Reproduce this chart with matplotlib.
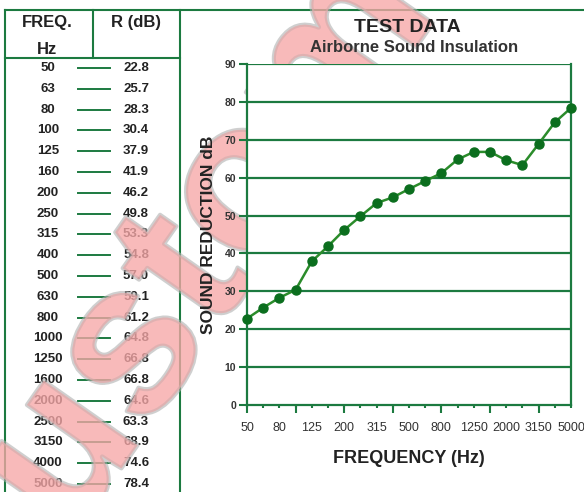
import matplotlib.pyplot as plt
import matplotlib.patheffects as pe

freqs = [50, 63, 80, 100, 125, 160, 200, 250, 315, 400, 500, 630, 800,
         1000, 1250, 1600, 2000, 2500, 3150, 4000, 5000]
r_db = [22.8, 25.7, 28.3, 30.4, 37.9, 41.9, 46.2, 49.8, 53.3, 54.8, 57.0,
        59.1, 61.2, 64.8, 66.8, 66.8, 64.6, 63.3, 68.9, 74.6, 78.4]
yticks = [0, 10, 20, 30, 40, 50, 60, 70, 80, 90]

plt.rcParams['font.family'] = ['Liberation Sans', 'DejaVu Sans']
GREEN = '#1c7a40'
TXT = '#222222'
W, H = 584, 492

fig = plt.figure(figsize=(W / 100, H / 100), dpi=100)

# overlay in pixel coords for the table
bg = fig.add_axes([0, 0, 1, 1])
bg.set_xlim(0, W)
bg.set_ylim(H, 0)
bg.axis('off')

bg.plot([5, W], [10, 10], color=GREEN, lw=1.5)
bg.plot([5, 5], [10, H], color=GREEN, lw=1.5)
bg.plot([180, 180], [10, H], color=GREEN, lw=1.5)
bg.plot([93, 93], [10, 58], color=GREEN, lw=1.5)
bg.plot([5, 180], [58, 58], color=GREEN, lw=1.5)

bg.text(47, 23, 'FREQ.', ha='center', va='center', fontsize=12, fontweight='bold', color=TXT)
bg.text(47, 50, 'Hz', ha='center', va='center', fontsize=12, fontweight='bold', color=TXT)
bg.text(136, 23, 'R (dB)', ha='center', va='center', fontsize=12, fontweight='bold', color=TXT)

row0, row1 = 68, 484
step = (row1 - row0) / (len(freqs) - 1)
for i, (f, r) in enumerate(zip(freqs, r_db)):
    y = row0 + i * step
    bg.text(48, y, str(f), ha='center', va='center', fontsize=9.5, fontweight='bold', color=TXT)
    bg.plot([78, 110], [y, y], color=GREEN, lw=1.4)
    bg.text(136, y, f'{r:.1f}', ha='center', va='center', fontsize=9.5, fontweight='bold', color=TXT)

# chart
ax = fig.add_axes([247 / W, 1 - 405 / H, (571 - 247) / W, (405 - 64) / H])
x = list(range(len(freqs)))
ax.plot(x, r_db, color='#2b8c2b', lw=1.8, marker='o', ms=6.5,
        markerfacecolor='#0b6e1e', markeredgecolor='#0b6e1e', zorder=3, clip_on=False)
ax.set_xlim(0, len(freqs) - 1)
ax.set_ylim(0, 90)
ax.set_yticks(yticks)
ax.set_yticklabels([str(v) for v in yticks], fontsize=7.5, fontweight='bold', color='#333333')
ax.set_xticks(x)
ax.set_xticklabels([str(f) if i % 2 == 0 else '' for i, f in enumerate(freqs)],
                   fontsize=9, color='#333333')
ax.set_xticks(x[::3], minor=True)
ax.xaxis.remove_overlapping_locs = False
ax.tick_params(axis='y', color=GREEN, width=1.5, length=6, pad=2)
ax.tick_params(axis='x', which='major', color=GREEN, width=1.5, length=2, pad=10)
ax.tick_params(axis='x', which='minor', color=GREEN, width=1.5, length=6)
for v in yticks[1:]:
    ax.axhline(v, color=GREEN, lw=1.6, zorder=1)
for s in ax.spines.values():
    s.set_color(GREEN)
    s.set_linewidth(1.6)
ax.spines['top'].set_visible(False)

ax.set_xlabel('FREQUENCY (Hz)', fontsize=13, fontweight='bold', color=TXT, labelpad=12)
ax.set_ylabel('SOUND REDUCTION dB', fontsize=12.5, fontweight='bold', color=TXT, labelpad=6)

fig.text(407 / W, 1 - 27 / H, 'TEST DATA', ha='center', va='center',
         fontsize=14, fontweight='bold', color=TXT)
fig.text(414 / W, 1 - 47 / H, 'Airborne Sound Insulation', ha='center', va='center',
         fontsize=12, fontweight='bold', color='#333333')

# watermark
wm = bg.text(210, 245, 'ustom', ha='center', va='center', rotation=55,
             fontsize=155, fontweight='bold', color='#f7a8a8', alpha=0.45, zorder=10)
wm.set_path_effects([pe.Stroke(linewidth=3, foreground='#b0b0b0', alpha=0.6), pe.Normal()])

fig.savefig('out.png', dpi=100)
